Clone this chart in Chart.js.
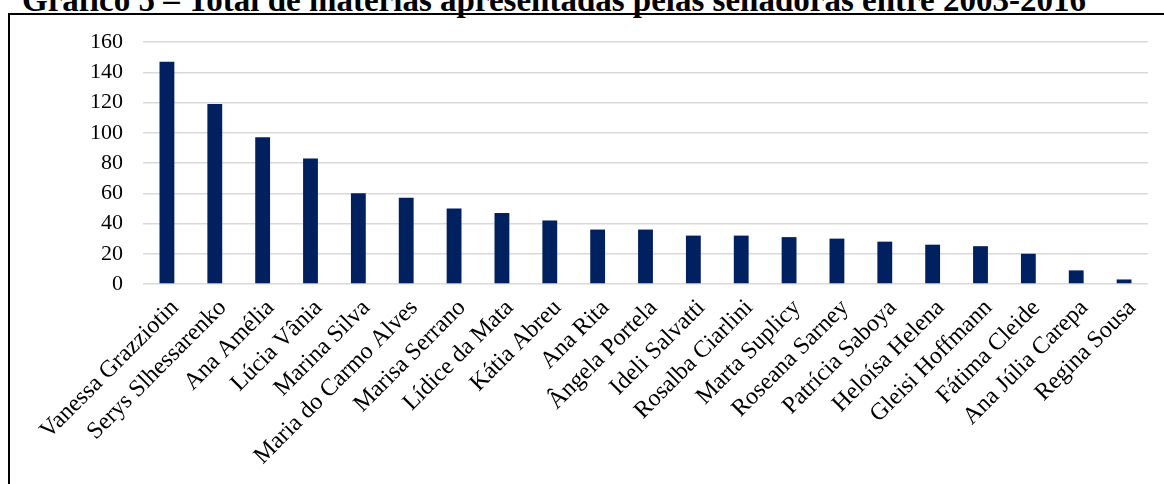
<!DOCTYPE html>
<html>
<head>
<meta charset="utf-8">
<script src="https://cdn.jsdelivr.net/npm/chart.js@4"></script>
<style>
  html, body { margin: 0; padding: 0; background: #fff; overflow: hidden; }
  body { width: 1164px; height: 484px; position: relative; }
  #titulo {
    position: absolute; left: 0; top: -16px; width: 1108px;
    text-align: center; white-space: nowrap;
    font-family: "Liberation Serif", "Times New Roman", serif;
    font-weight: bold; font-size: 33px; line-height: 33px; color: #000;
  }
  #caixa {
    position: absolute; left: 8px; top: 13px; width: 1200px; height: 520px;
    border-left: 2px solid #000; border-top: 2px solid #000;
  }
  #grafico { position: absolute; left: 0; top: 0; }
</style>
</head>
<body>
<div id="titulo">Gráfico 5 – Total de matérias apresentadas pelas senadoras entre 2003-2016</div>
<div id="caixa"></div>
<canvas id="grafico" width="1164" height="484"></canvas>
<script>
// senadoras e total de matérias apresentadas
const senadoras = [
    "Vanessa Grazziotin", "Serys Slhessarenko", "Ana Amélia", "Lúcia Vânia",
    "Marina Silva", "Maria do Carmo Alves", "Marisa Serrano", "Lídice da Mata",
    "Kátia Abreu", "Ana Rita", "Ângela Portela", "Ideli Salvatti",
    "Rosalba Ciarlini", "Marta Suplicy", "Roseana Sarney", "Patrícia Saboya",
    "Heloísa Helena", "Gleisi Hoffmann", "Fátima Cleide", "Ana Júlia Carepa",
    "Regina Sousa"
];
const materias = [147, 119, 97, 83, 60, 57, 50, 47, 42, 36, 36, 32, 32, 31, 30, 28, 26, 25, 20, 9, 3];
const eixoY = [0, 20, 40, 60, 80, 100, 120, 140, 160];

const serif = "'Liberation Serif', 'Times New Roman', serif";

const ctx = document.getElementById('grafico').getContext('2d');
const grafico = new Chart(ctx, {
    type: 'bar',
    data: {
        labels: senadoras,
        datasets: [{
            label: "Matérias",
            data: materias,
            backgroundColor: '#002060',
            categoryPercentage: 1,
            barPercentage: 0.31
        }]
    },
    options: {
        responsive: false,
        animation: false,
        layout: { padding: { left: 0, right: 16, top: 42, bottom: 0 } },
        plugins: {
            legend: { display: false },
            tooltip: { enabled: false }
        },
        scales: {
            x: {
                grid: { display: false },
                border: { display: false },
                ticks: {
                    font: { family: serif, size: 24 },
                    color: '#000',
                    autoSkip: false,
                    minRotation: 45,
                    maxRotation: 45,
                    padding: 2,
                    labelOffset: 8
                },
                afterFit: (axis) => { axis.height = 200; }
            },
            y: {
                min: 0,
                max: 160,
                grid: { color: '#d9d9d9', lineWidth: 1.5, drawTicks: false },
                border: { display: false },
                ticks: { font: { family: serif, size: 22 }, color: '#000', padding: 20 },
                afterBuildTicks: (axis) => { axis.ticks = eixoY.map(v => ({ value: v })); },
                afterFit: (axis) => { axis.width = 143; }
            }
        }
    }
});
</script>
</body>
</html>
